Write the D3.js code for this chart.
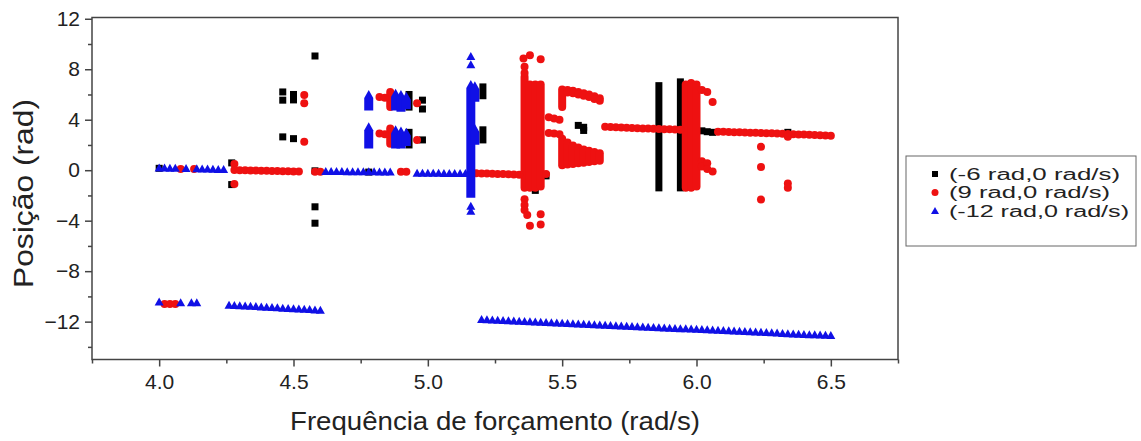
<!DOCTYPE html>
<html>
<head>
<meta charset="utf-8">
<script src="https://cdn.jsdelivr.net/npm/d3@7"></script>
<style>
  body { margin: 0; background: #fff; }
  svg { display: block; font-family: "Liberation Sans", Arial, sans-serif; }
</style>
</head>
<body>
<svg id="chart" width="1141" height="441"></svg>
<script>
// Axis ticks
const xMajorTicks = [4.0, 4.5, 5.0, 5.5, 6.0, 6.5];
const xMinorTicks = [3.75, 4.25, 4.75, 5.25, 5.75, 6.25, 6.75];
const yMajorTicks = [-12, -8, -4, 0, 4, 8, 12];
const yMinorTicks = [-14, -10, -6, -2, 2, 6, 10];

// Series labels (initial conditions)
const seriesNames = ["(-6 rad,0 rad/s)", "(9 rad,0 rad/s)", "(-12 rad,0 rad/s)"];

// Poincaré samples: [frequency, position]
const blackPoints = [
  [4.00, 0.15],
  [4.27, 0.58], [4.27, -1.14],
  [4.46, 6.2], [4.46, 5.55], [4.46, 2.64],
  [4.50, 6.0], [4.50, 5.57], [4.50, 2.5],
  [4.58, 9.05], [4.58, -0.05], [4.58, -2.9], [4.58, -4.2],
  [4.78, -0.15],
  [4.98, 5.55], [4.98, 4.85], [4.98, 2.4],
  [5.40, -1.6], [5.44, -0.45],
  [5.56, 3.55], [5.58, 3.4], [5.58, 3.15],
  [6.02, 3.12], [6.04, 3.05], [6.06, 3.0],
  [6.34, 3.0]
];
// Densely sampled ranges at one frequency: [frequency, low, high]
const blackRuns = [
  [4.93, 5.0, 6.0], [4.93, 2.0, 3.0],
  [5.205, 5.9, 6.6], [5.205, 2.4, 3.2],
  [5.86, -1.4, 6.7], [5.94, -1.4, 7.0]
];

const redPoints = [
  [4.02, -10.6], [4.04, -10.6], [4.06, -10.6],
  [4.08, 0.1], [4.13, 0.1],
  [4.28, 0.5], [4.28, -1.1],
  [4.28, 0.02], [4.30, 0.0], [4.32, 0.0], [4.34, -0.02], [4.36, -0.03], [4.38, -0.04],
  [4.40, -0.05], [4.42, -0.06], [4.44, -0.07], [4.46, -0.08], [4.48, -0.09], [4.50, -0.1],
  [4.52, -0.1], [4.58, -0.13], [4.60, -0.13],
  [4.54, 5.95], [4.54, 5.3], [4.54, 2.25],
  [4.82, 5.8], [4.84, 5.75], [4.82, 2.9], [4.84, 2.85],
  [4.96, 5.3], [4.96, 2.4], [4.90, -0.12], [4.92, -0.12],
  [5.18, -0.25], [5.20, -0.26], [5.22, -0.27], [5.24, -0.28], [5.26, -0.3],
  [5.28, -0.31], [5.30, -0.33], [5.32, -0.35], [5.34, -0.37],
  [5.356, 8.85], [5.38, 9.1], [5.42, 8.8], [5.36, 8.2], [5.36, 7.7], [5.44, -0.3],
  [5.36, -2.3], [5.36, -2.75], [5.36, -3.15], [5.37, -3.55], [5.38, -4.4], [5.42, -3.5], [5.42, -4.3],
  [5.45, 4.2], [5.47, 4.1], [5.49, 4.0], [5.45, 2.95], [5.47, 2.9], [5.49, 2.85],
  [5.52, 6.35], [5.54, 6.3], [5.56, 6.2], [5.58, 6.1], [5.60, 6.0], [5.62, 5.85], [5.64, 5.7],
  [5.52, 6.15], [5.54, 6.1], [5.56, 6.0], [5.58, 5.9], [5.60, 5.8], [5.62, 5.65], [5.64, 5.5],
  [5.66, 3.45], [5.68, 3.43], [5.70, 3.41], [5.72, 3.39], [5.74, 3.37], [5.76, 3.35], [5.78, 3.33],
  [5.80, 3.31], [5.82, 3.3], [5.84, 3.28], [5.86, 3.27], [5.88, 3.25], [5.90, 3.24], [5.92, 3.22], [5.94, 3.21],
  [6.08, 3.05], [6.10, 3.04], [6.12, 3.02], [6.14, 3.01], [6.16, 3.0], [6.18, 2.98], [6.20, 2.97],
  [6.22, 2.96], [6.24, 2.95], [6.26, 2.93], [6.28, 2.92], [6.30, 2.9], [6.32, 2.88], [6.34, 2.86],
  [6.36, 2.85], [6.38, 2.83], [6.40, 2.82], [6.42, 2.8], [6.44, 2.78], [6.46, 2.76], [6.48, 2.74], [6.50, 2.72],
  [6.02, 6.35], [6.04, 6.2], [6.06, 5.4],
  [6.02, 0.7], [6.02, 0.3], [6.04, 0.55], [6.04, 0.1], [6.06, -0.1],
  [6.24, 1.85], [6.24, 0.26], [6.24, -2.33], [6.34, 2.65], [6.34, -1.05], [6.34, -1.4]
];
const redRuns = [
  [4.86, 5.0, 6.2], [4.86, 2.1, 3.3],
  [5.36, -1.4, 7.4], [5.38, -1.4, 6.8], [5.40, -1.4, 6.8], [5.42, -1.3, 6.8],
  [5.50, 5.0, 6.4],
  [5.50, 0.4, 2.5], [5.52, 0.45, 2.2], [5.54, 0.5, 1.95], [5.56, 0.55, 1.8],
  [5.58, 0.6, 1.65], [5.60, 0.65, 1.55], [5.62, 0.7, 1.45], [5.64, 0.75, 1.35],
  [5.96, -1.4, 6.8], [5.98, -1.4, 6.9], [6.00, -1.3, 6.8]
];

const bluePoints = [
  [4.00, -10.45], [4.08, -10.5], [4.12, -10.5], [4.14, -10.5],
  [4.26, -10.70], [4.28, -10.72], [4.30, -10.74], [4.32, -10.77], [4.34, -10.79], [4.36, -10.81],
  [4.38, -10.84], [4.40, -10.86], [4.42, -10.88], [4.44, -10.9], [4.46, -10.93], [4.48, -10.95],
  [4.50, -10.97], [4.52, -11.0], [4.54, -11.02], [4.56, -11.04], [4.58, -11.07], [4.60, -11.1],
  [5.20, -11.83], [5.22, -11.85], [5.24, -11.87], [5.26, -11.89], [5.28, -11.91], [5.30, -11.93],
  [5.32, -11.95], [5.34, -11.97], [5.36, -11.99], [5.38, -12.01], [5.40, -12.03], [5.42, -12.05],
  [5.44, -12.07], [5.46, -12.08], [5.48, -12.10], [5.50, -12.12], [5.52, -12.14], [5.54, -12.16],
  [5.56, -12.18], [5.58, -12.20], [5.60, -12.22], [5.62, -12.24], [5.64, -12.26], [5.66, -12.28],
  [5.68, -12.30], [5.70, -12.32], [5.72, -12.34], [5.74, -12.36], [5.76, -12.38], [5.78, -12.40],
  [5.80, -12.42], [5.82, -12.44], [5.84, -12.46], [5.86, -12.48], [5.88, -12.50], [5.90, -12.52],
  [5.92, -12.54], [5.94, -12.56], [5.96, -12.57], [5.98, -12.59], [6.00, -12.61], [6.02, -12.63],
  [6.04, -12.65], [6.06, -12.67], [6.08, -12.69], [6.10, -12.71], [6.12, -12.73], [6.14, -12.75],
  [6.16, -12.77], [6.18, -12.79], [6.20, -12.81], [6.22, -12.83], [6.24, -12.85], [6.26, -12.87],
  [6.28, -12.89], [6.30, -12.91], [6.32, -12.93], [6.34, -12.95], [6.36, -12.97], [6.38, -12.99],
  [6.40, -13.01], [6.42, -13.03], [6.44, -13.04], [6.46, -13.06], [6.48, -13.08], [6.50, -13.10],
  [4.00, 0.18], [4.02, 0.17], [4.04, 0.16], [4.06, 0.15], [4.10, 0.13], [4.14, 0.12],
  [4.16, 0.1], [4.18, 0.09], [4.20, 0.08], [4.22, 0.06], [4.24, 0.05],
  [4.62, -0.1], [4.64, -0.1], [4.66, -0.11], [4.68, -0.11], [4.70, -0.12], [4.72, -0.12],
  [4.74, -0.12], [4.76, -0.13], [4.78, -0.13], [4.80, -0.13], [4.82, -0.14], [4.84, -0.14], [4.86, -0.15],
  [4.96, -0.24], [4.98, -0.24], [5.00, -0.25], [5.02, -0.25], [5.04, -0.25], [5.06, -0.26],
  [5.08, -0.26], [5.10, -0.26], [5.12, -0.27], [5.14, -0.27],
  [5.16, 9.0], [5.16, 8.35], [5.16, -2.85], [5.16, -3.25]
];
const blueRuns = [
  [4.78, 5.0, 6.0], [4.78, 2.0, 3.45],
  [4.88, 5.0, 6.1], [4.90, 4.9, 6.0], [4.92, 5.1, 5.85],
  [4.88, 2.0, 3.2], [4.90, 2.0, 3.1], [4.92, 2.2, 3.0],
  [5.16, -1.9, 6.8], [5.175, 5.7, 6.7], [5.175, 2.3, 3.3]
];

const colors = { black: "#000000", red: "#ee1111", blue: "#1010e6" };

const svg = d3.select("#chart");
const plotLeft = 92, plotRight = 898, plotTop = 17.5, plotBottom = 359.5;

const x = d3.scaleLinear().domain([3.75, 6.75]).range([plotLeft, plotRight]);
const y = d3.scaleLinear().domain([-15, 12.1]).range([plotBottom, plotTop]);

// Frame
svg.append("rect")
  .attr("x", plotLeft).attr("y", plotTop)
  .attr("width", plotRight - plotLeft).attr("height", plotBottom - plotTop)
  .attr("fill", "none").attr("stroke", "#444").attr("stroke-width", 1.5);

// Axes
function styleAxis(g) {
  g.select(".domain").remove();
  g.selectAll("line").attr("stroke", "#444").attr("stroke-width", 1.5);
  g.selectAll("text").attr("fill", "#222").attr("font-size", 21)
    .attr("font-family", "'Liberation Sans', Arial, sans-serif");
}
svg.append("g").attr("transform", `translate(0,${plotBottom})`)
  .call(d3.axisBottom(x).tickValues(xMajorTicks).tickFormat(d3.format(".1f")).tickSize(7).tickPadding(8))
  .call(styleAxis);
svg.append("g").attr("transform", `translate(0,${plotBottom})`)
  .call(d3.axisBottom(x).tickValues(xMinorTicks).tickFormat("").tickSize(4))
  .call(styleAxis);
svg.append("g").attr("transform", `translate(${plotLeft},0)`)
  .call(d3.axisLeft(y).tickValues(yMajorTicks).tickFormat(d3.format("d")).tickSize(7).tickPadding(5))
  .call(styleAxis);
svg.append("g").attr("transform", `translate(${plotLeft},0)`)
  .call(d3.axisLeft(y).tickValues(yMinorTicks).tickFormat("").tickSize(4))
  .call(styleAxis);

// Axis titles
svg.append("text")
  .attr("x", 290).attr("y", 430)
  .attr("font-size", 26).attr("fill", "#222")
  .attr("textLength", 410).attr("lengthAdjust", "spacingAndGlyphs")
  .text("Frequência de forçamento (rad/s)");
svg.append("text")
  .attr("transform", "translate(33,288) rotate(-90)")
  .attr("font-size", 27).attr("fill", "#222")
  .attr("textLength", 189).attr("lengthAdjust", "spacingAndGlyphs")
  .text("Posição (rad)");

// Marker shapes
const plot = svg.append("g");
const sq = 7, rc = 4, tw = 4.5, tUp = 4.5, tDown = 3.5;

function trianglePath(cx, cy) {
  return `M${cx},${cy - tUp}L${cx + tw},${cy + tDown}L${cx - tw},${cy + tDown}Z`;
}

// black squares
plot.append("g").selectAll("rect").data(blackRuns).join("rect")
  .attr("x", d => x(d[0]) - sq / 2).attr("y", d => y(d[2]) - sq / 2)
  .attr("width", sq).attr("height", d => y(d[1]) - y(d[2]) + sq)
  .attr("fill", colors.black);
plot.append("g").selectAll("rect").data(blackPoints).join("rect")
  .attr("x", d => x(d[0]) - sq / 2).attr("y", d => y(d[1]) - sq / 2)
  .attr("width", sq).attr("height", sq)
  .attr("fill", colors.black);

// red circles
plot.append("g").selectAll("rect").data(redRuns).join("rect")
  .attr("x", d => x(d[0]) - rc).attr("y", d => y(d[2]) - rc)
  .attr("width", 2 * rc).attr("height", d => y(d[1]) - y(d[2]) + 2 * rc)
  .attr("rx", rc).attr("fill", colors.red);
plot.append("g").selectAll("circle").data(redPoints).join("circle")
  .attr("cx", d => x(d[0])).attr("cy", d => y(d[1])).attr("r", rc)
  .attr("fill", colors.red);

// blue triangles
plot.append("g").selectAll("path").data(blueRuns).join("path")
  .attr("d", d => {
    const cx = x(d[0]), yt = y(d[2]), yb = y(d[1]);
    return `M${cx},${yt - tUp}L${cx + tw},${yt + tDown}L${cx + tw},${yb + tDown}L${cx - tw},${yb + tDown}L${cx - tw},${yt + tDown}Z`;
  })
  .attr("fill", colors.blue);
plot.append("g").selectAll("path").data(bluePoints).join("path")
  .attr("d", d => trianglePath(x(d[0]), y(d[1])))
  .attr("fill", colors.blue);

// Legend
const lg = svg.append("g");
lg.append("rect").attr("x", 906).attr("y", 156).attr("width", 230).attr("height", 90)
  .attr("fill", "#fff").attr("stroke", "#666").attr("stroke-width", 1);
const rowY = [174, 192.5, 211];
const textLen = [171, 161, 180];
lg.append("rect").attr("x", 932).attr("y", rowY[0] - 3).attr("width", 6).attr("height", 6).attr("fill", colors.black);
lg.append("circle").attr("cx", 935).attr("cy", rowY[1]).attr("r", 3.5).attr("fill", colors.red);
lg.append("path").attr("d", `M935,${rowY[2] - 4}L939,${rowY[2] + 3}L931,${rowY[2] + 3}Z`).attr("fill", colors.blue);
lg.selectAll("text.lbl").data(seriesNames).join("text").attr("class", "lbl")
  .attr("x", 949).attr("y", (d, i) => rowY[i] + 5.5)
  .attr("font-size", 16).attr("fill", "#222")
  .attr("textLength", (d, i) => textLen[i]).attr("lengthAdjust", "spacingAndGlyphs")
  .text(d => d);
</script>
</body>
</html>
